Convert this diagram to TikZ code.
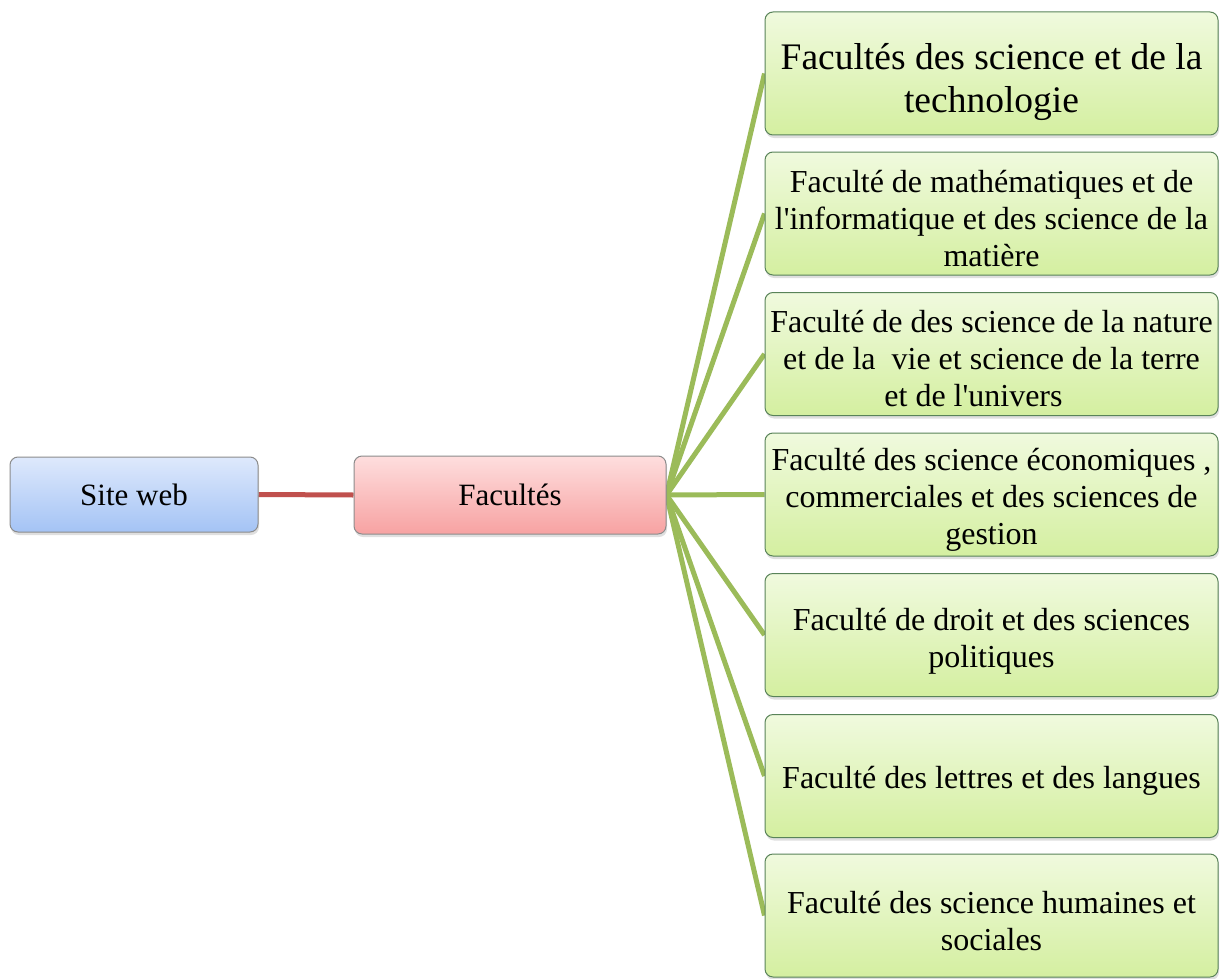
\documentclass[tikz,border=0pt]{standalone}
\usepackage{fontspec}
\setmainfont{Liberation Serif}
\newfontfamily\tnr{Liberation Serif}
\usetikzlibrary{shadows,backgrounds}
\definecolor{gline}{HTML}{9BBB59}
\definecolor{rline}{HTML}{C0504D}
\tikzset{
  basebox/.style={rounded corners=8pt, draw=#1, line width=1pt, align=center,
    drop shadow={opacity=0.25, shadow xshift=1pt, shadow yshift=-3pt}},
  bluebox/.style={basebox={black!45}, top color={rgb,255:red,222;green,233;blue,252},
    bottom color={rgb,255:red,164;green,195;blue,245}, minimum width=248pt, minimum height=75pt,
    font=\tnr\fontsize{31}{36}\selectfont},
  redbox/.style={basebox={black!45}, top color={rgb,255:red,254;green,222;blue,222},
    bottom color={rgb,255:red,247;green,162;blue,162}, minimum width=312pt, minimum height=78pt,
    font=\tnr\fontsize{31}{36}\selectfont},
  greenbox/.style={basebox={black!45!green!30!gray}, top color={rgb,255:red,240;green,250;blue,222},
    bottom color={rgb,255:red,212;green,239;blue,160}, minimum width=453pt, minimum height=123pt},
  gtext/.style={align=center, inner sep=0pt, font=\tnr\fontsize{32}{37}\selectfont},
  gconn/.style={draw=gline, line width=5pt},
  rconn/.style={draw=rline, line width=5pt}
}
\begin{document}
\begin{tikzpicture}[x=1pt,y=-1pt]
\useasboundingbox (0,0) rectangle (1220,979);
\node[bluebox] (site) at (134,494.5) {Site web};
\node[redbox] (fac) at (510,495) {Facultés};
\node[greenbox] (f1) at (991.5,73.5) {};
\node[greenbox] (f2) at (991.5,213.5) {};
\node[greenbox] (f3) at (991.5,354) {};
\node[greenbox] (f4) at (991.5,494.5) {};
\node[greenbox] (f5) at (991.5,635) {};
\node[greenbox] (f6) at (991.5,776) {};
\node[greenbox] (f7) at (991.5,915.5) {};
\node[gtext, font=\tnr\fontsize{37.5}{43}\selectfont] (t1) at ([yshift=-9pt]f1.center) {Facultés des science et de la\\technologie};
\node[gtext] (t2) at ([yshift=-5pt]f2.center) {Faculté de mathématiques et de\\l\textquotesingle informatique et des science de la\\matière};
\node[gtext] (t3) at ([yshift=-5pt]f3.center) {Faculté de des science de la nature\\et de la \ vie et science de la terre\hspace*{10pt}\\et de l\textquotesingle univers\hspace*{36pt}};
\node[gtext] (t4) at ([yshift=-5pt]f4.center) {Faculté des science économiques ,\\commerciales et des sciences de\\gestion};
\node[gtext] (t5) at ([yshift=-6pt]f5.center) {Faculté de droit et des sciences\\politiques};
\node[gtext] (t6) at ([yshift=-5pt]f6.center) {Faculté des lettres et des langues};
\node[gtext] (t7) at ([yshift=-6pt]f7.center) {Faculté des science humaines et\\sociales};
\begin{pgfonlayer}{background}
\draw[rconn] (site.east) -- (fac.west);
\foreach \i in {1,...,7} {\draw[gconn] (fac.east) -- (f\i.west);}
\end{pgfonlayer}
\end{tikzpicture}
\end{document}
